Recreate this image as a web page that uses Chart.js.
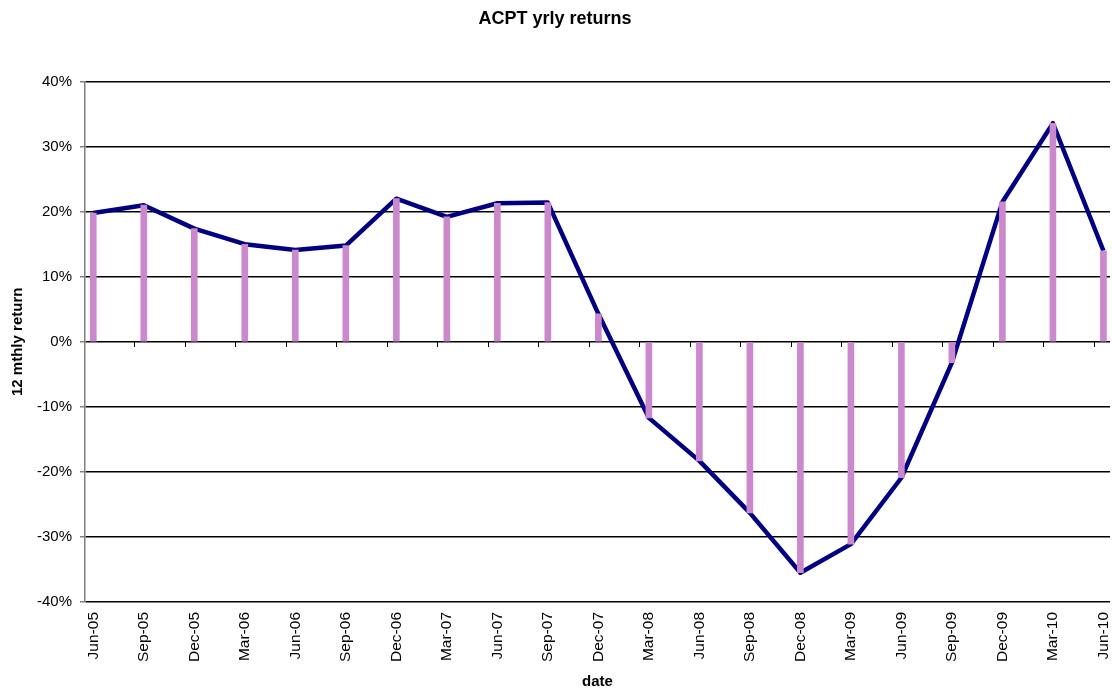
<!DOCTYPE html>
<html>
<head>
<meta charset="utf-8">
<script src="https://cdn.jsdelivr.net/npm/chart.js@4"></script>
<style>
html,body{margin:0;padding:0;background:#fff;}
#wrap{width:1112px;height:688px;}
</style>
</head>
<body>
<div id="wrap"><canvas id="c" width="1112" height="688"></canvas></div>
<script>
const categories = ['Jun-05','Sep-05','Dec-05','Mar-06','Jun-06','Sep-06','Dec-06','Mar-07','Jun-07','Sep-07','Dec-07','Mar-08','Jun-08','Sep-08','Dec-08','Mar-09','Jun-09','Sep-09','Dec-09','Mar-10','Jun-10'];
const returns = [19.8, 21.0, 17.4, 15.0, 14.1, 14.8, 22.0, 19.2, 21.3, 21.4, 4.3, -11.7, -18.3, -26.3, -35.5, -31.1, -20.9, -3.2, 21.5, 33.6, 14.0];
const yTicks = [-40, -30, -20, -10, 0, 10, 20, 30, 40];

const pts = returns.map((v, i) => ({x: i, y: v}));
const FONT = "'Liberation Sans', Arial, sans-serif";
const xMin = -0.164, xMax = 20.13;

new Chart(document.getElementById('c'), {
  data: {
    datasets: [
      {type: 'bar', data: pts, backgroundColor: 'rgb(204,136,204)', barThickness: 6, order: 0, xAxisID: 'x', yAxisID: 'y'},
      {type: 'line', data: pts, borderColor: '#000080', borderWidth: 4.5, borderJoinStyle: 'round', pointRadius: 0, tension: 0, fill: false, order: 1, xAxisID: 'x', yAxisID: 'y'}
    ]
  },
  options: {
    responsive: false,
    animation: false,
    layout: {padding: {left: 0, right: 2, top: 0, bottom: 0}},
    plugins: {
      legend: {display: false},
      tooltip: {enabled: false},
      title: {display: true, text: 'ACPT yrly returns', color: '#000', font: {family: FONT, size: 18, weight: 'bold'}, padding: {top: 8, bottom: 52}}
    },
    scales: {
      x: {
        type: 'linear', position: 'bottom', min: xMin, max: xMax, offset: false,
        afterBuildTicks: s => { s.ticks = categories.map((c, i) => ({value: i})); },
        afterFit: s => { s.height = 86; s.paddingLeft = 0; s.paddingRight = 0; },
        grid: {display: false, drawTicks: false, offset: false},
        border: {display: false},
        ticks: {autoSkip: false, maxRotation: 90, minRotation: 90, padding: 10, color: '#000', font: {family: FONT, size: 15.5}, callback: v => categories[v]},
        title: {display: true, text: 'date', color: '#000', font: {family: FONT, size: 15, weight: 'bold', lineHeight: 1}, padding: {top: 0, bottom: -1}}
      },
      x0: {
        type: 'linear', position: {y: 0}, min: xMin, max: xMax, offset: false,
        afterBuildTicks: s => { s.ticks = categories.slice(1).map((c, i) => ({value: i + 1 - 0.18})); },
        afterFit: s => { s.paddingLeft = 0; s.paddingRight = 0; },
        grid: {drawOnChartArea: false, drawTicks: true, tickLength: 5, color: '#000', tickColor: '#000', lineWidth: 1, offset: false},
        border: {display: false},
        ticks: {display: false}
      },
      y: {
        type: 'linear', position: 'left', min: -40, max: 40,
        afterBuildTicks: s => { s.ticks = yTicks.map(v => ({value: v})); },
        afterFit: s => { s.width = 85; },
        grid: {color: '#000', lineWidth: 1.5, tickColor: '#808080', tickLength: 5, drawTicks: true},
        border: {display: true, color: '#808080', width: 1.5},
        ticks: {padding: 8, color: '#000', font: {family: FONT, size: 15}, callback: v => v + '%'},
        title: {display: true, text: '12 mthly return', color: '#000', font: {family: FONT, size: 15, weight: 'bold', lineHeight: 1.2}, padding: {top: 9, bottom: 0}}
      }
    }
  }
});
</script>
</body>
</html>
